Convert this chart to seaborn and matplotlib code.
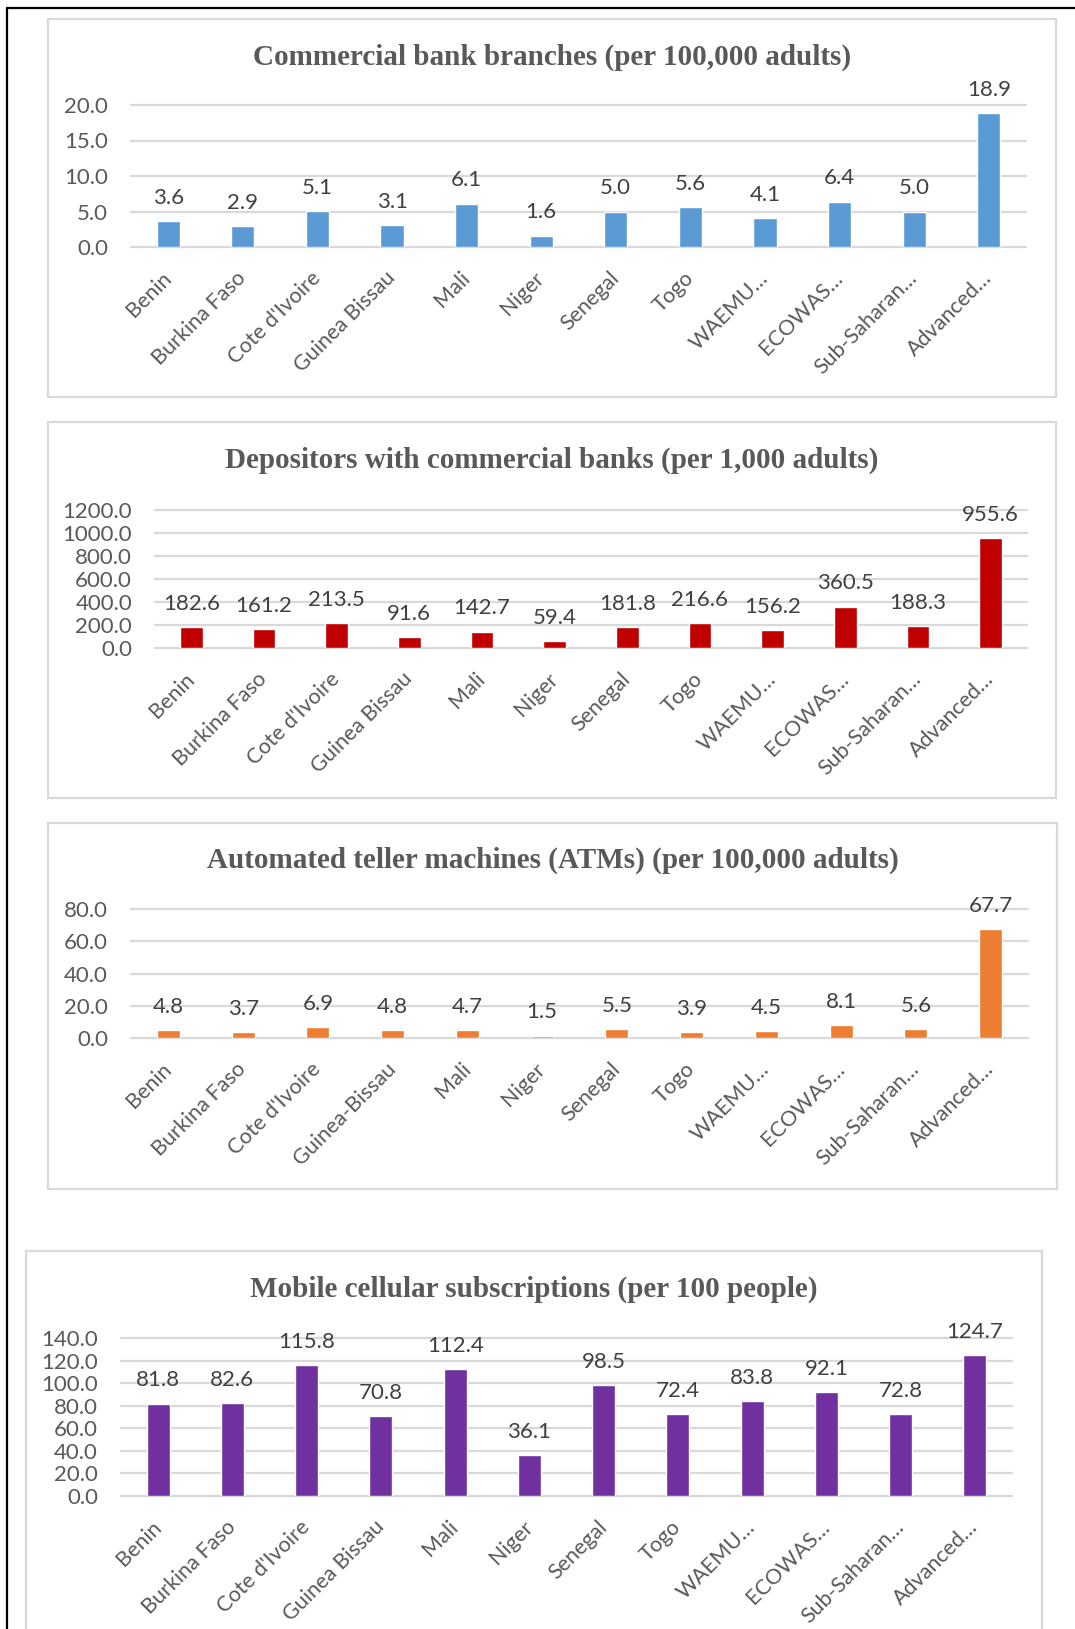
import matplotlib
matplotlib.use("Agg")
import matplotlib.pyplot as plt
from matplotlib.patches import Rectangle
from matplotlib.lines import Line2D
from matplotlib.ticker import FormatStrFormatter, MultipleLocator
import seaborn as sns

sns.set_theme(style="white")
plt.rcParams["font.family"] = ["Lato", "DejaVu Sans"]

# ---- data -------------------------------------------------------------
countries = ["Benin", "Burkina Faso", "Cote d'Ivoire", "Guinea Bissau", "Mali",
             "Niger", "Senegal", "Togo", "WAEMU…", "ECOWAS…", "Sub-Saharan…",
             "Advanced…"]
countries_atm = ["Benin", "Burkina Faso", "Cote d'Ivoire", "Guinea-Bissau", "Mali",
                 "Niger", "Senegal", "Togo", "WAEMU…", "ECOWAS…", "Sub-Saharan…",
                 "Advanced…"]

branches = [3.6, 2.9, 5.1, 3.1, 6.1, 1.6, 5.0, 5.6, 4.1, 6.4, 5.0, 18.9]
depositors = [182.6, 161.2, 213.5, 91.6, 142.7, 59.4, 181.8, 216.6, 156.2,
              360.5, 188.3, 955.6]
atms = [4.8, 3.7, 6.9, 4.8, 4.7, 1.5, 5.5, 3.9, 4.5, 8.1, 5.6, 67.7]
mobile = [81.8, 82.6, 115.8, 70.8, 112.4, 36.1, 98.5, 72.4, 83.8, 92.1, 72.8,
          124.7]

titles = ["Commercial bank branches (per 100,000 adults)",
          "Depositors with commercial banks (per 1,000 adults)",
          "Automated teller machines (ATMs) (per 100,000 adults)",
          "Mobile cellular subscriptions (per 100 people)"]

# ---- layout (pixel geometry) -----------------------------------------
W, H = 1075, 1629
fig = plt.figure(figsize=(W / 100, H / 100), dpi=100)
fig.patch.set_facecolor("white")

def fx(px):
    return px / W

def fy(py):
    return 1 - py / H

GRID = "#d9d9d9"
TXT = "#595959"
LBL = "#404040"
FS = 16
FS_X = 15.5

# panel frames: (left, top, right, bottom)
frames = [(48, 19, 1056, 397), (48, 422, 1056, 798),
          (48, 823, 1057, 1189), (26, 1251, 1042, 1640)]
# plot areas: (left, top, right, bottom)
areas = [(131, 105, 1026, 247), (155, 510, 1027, 648),
         (131, 909, 1028, 1038), (121, 1338, 1012, 1496)]
title_pos = [(552, 57), (552, 460), (553, 860), (534, 1289)]

panels = [
    (countries, branches, "#5b9bd5", 20, 5),
    (countries, depositors, "#c00000", 1200, 200),
    (countries_atm, atms, "#ed7d31", 80, 20),
    (countries, mobile, "#7030a0", 140, 20),
]

for (l, t, r, b) in frames:
    fig.patches.append(Rectangle((fx(l), fy(b)), fx(r - l), fy(t) - fy(b),
                                 transform=fig.transFigure, facecolor="none",
                                 edgecolor=GRID, linewidth=1.6, zorder=-5))

# outer black rule along the top and left edges
fig.lines.append(Line2D([fx(6.5), 1], [fy(7.5), fy(7.5)],
                        transform=fig.transFigure, color="black", lw=1.6))
fig.lines.append(Line2D([fx(6.5), fx(6.5)], [fy(7.5), 0],
                        transform=fig.transFigure, color="black", lw=1.6))

for i, ((cats, vals, color, ymax, step), (l, t, r, b)) in enumerate(zip(panels, areas)):
    ax = fig.add_axes([fx(l), fy(b), fx(r - l), fy(t) - fy(b)])
    ax.set_zorder(2)
    ax.set_facecolor("none")
    sns.barplot(x=cats, y=vals, color=color, saturation=1, width=0.31,
                errorbar=None, ax=ax)
    ax.set_ylim(0, ymax)
    ax.set_xlim(-0.5, len(cats) - 0.5)
    ax.yaxis.set_major_locator(MultipleLocator(step))
    ax.yaxis.set_major_formatter(FormatStrFormatter("%.1f"))
    ax.set_xlabel("")
    ax.set_ylabel("")
    for s in ax.spines.values():
        s.set_visible(False)
    ax.yaxis.grid(True, color=GRID, linewidth=1.6)
    ax.set_axisbelow(True)
    for gl in ax.get_ygridlines():
        gl.set_clip_on(False)
    ax.tick_params(axis="y", length=0, pad=16.5, labelsize=FS, labelcolor=TXT)
    ax.tick_params(axis="x", length=0, pad=20, labelsize=FS_X, labelcolor=TXT)
    for lab in ax.get_xticklabels():
        lab.set_rotation(45)
        lab.set_ha("right")
        lab.set_va("center")
        lab.set_rotation_mode("anchor")
    ax.bar_label(ax.containers[0], labels=[f"{v:.1f}" for v in vals],
                 padding=9.5, fontsize=FS, color=LBL)
    tx, ty = title_pos[i]
    fig.text(fx(tx), fy(ty), titles[i], ha="center", va="center",
             fontsize=21, fontweight="bold", color=TXT,
             family=["Liberation Serif", "DejaVu Serif"])

fig.savefig("out.png", dpi=100, facecolor="white")
